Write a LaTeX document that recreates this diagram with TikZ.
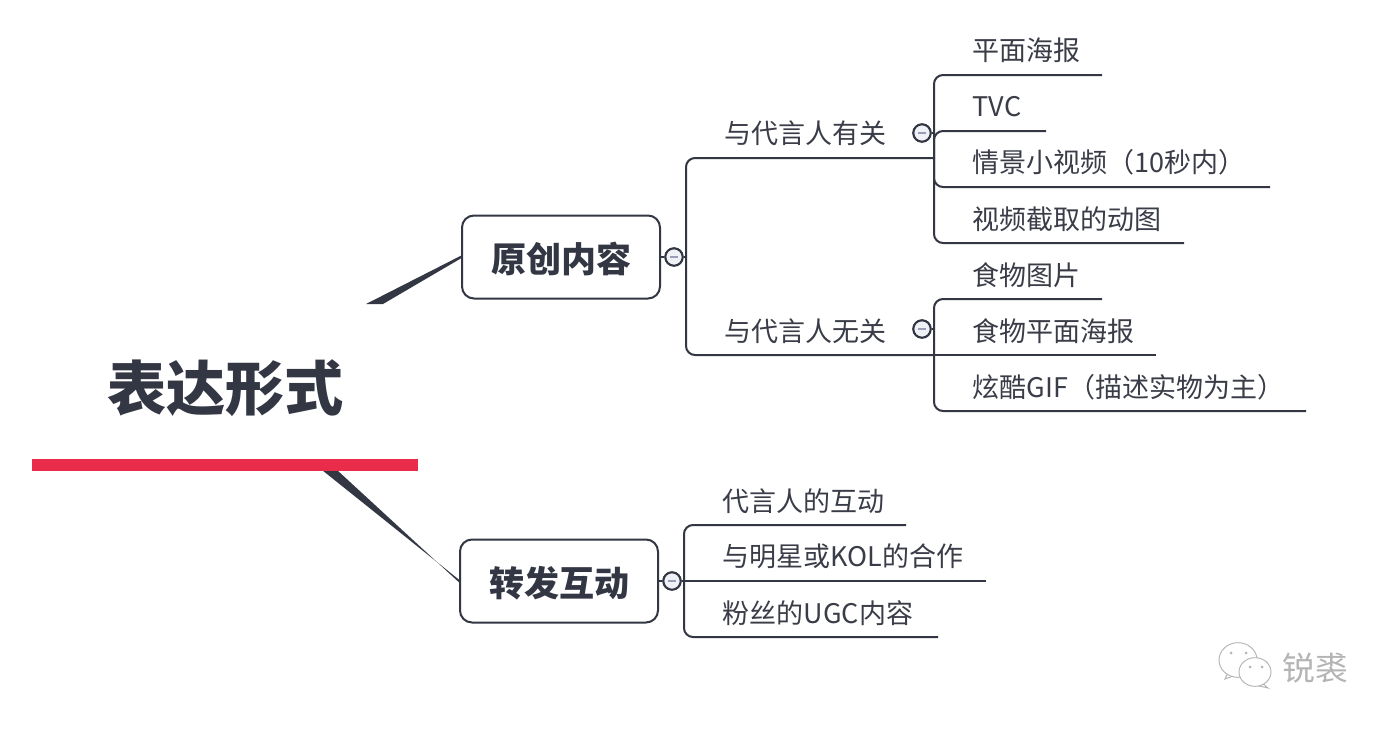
\documentclass[tikz,border=0pt]{standalone}
\usepackage{fontspec}
\setmainfont{Noto Sans CJK SC}
\usetikzlibrary{shapes.geometric}
\definecolor{ink}{HTML}{333744}
\definecolor{txt}{HTML}{3A3D48}
\definecolor{barred}{HTML}{E82C4A}
\definecolor{knob}{HTML}{F0F1F6}
\definecolor{dash}{HTML}{9A9CB8}
\definecolor{wm}{HTML}{B4B4B4}
\tikzset{
  x=0.75pt,y=-0.75pt,
  link/.style={draw=ink,line width=1.5pt,rounded corners=6.75pt},
  mainbox/.style={draw=ink,line width=1.5pt,rounded corners=9pt,minimum width=148.5pt,minimum height=62.25pt,inner sep=0pt,fill=white,text=ink,text height=27pt,text depth=4pt,font=\fontsize{26.25pt}{30pt}\selectfont\bfseries},
  leafbox/.style={anchor=south east,inner sep=0pt,minimum height=36pt,text width=#1*0.75pt,align=left,text=txt,font=\fontsize{20.25pt}{24pt}\selectfont},
  knobc/.style={circle,draw=ink,line width=1.5pt,fill=knob,minimum size=13pt,inner sep=0pt},
  knobdash/.style={draw=dash,line width=1pt},
  wedge/.style={fill=ink,draw=none},
  bubble/.style={draw=wm,line width=0.7pt,fill=white},
}
\begin{document}
\begin{tikzpicture}
\useasboundingbox (0,0) rectangle (1393,729);
\fill[white] (0,0) rectangle (1393,729);

% title and bar
\node[inner sep=0pt,text=ink,font=\fontsize{44.4pt}{50pt}\selectfont\bfseries] (title) at (225.5,388) {表达形式};

% main boxes
\node[mainbox] (orig) at (561,257) {原创内容};
\node[mainbox] (fwd) at (559,581) {转发互动};

% wedges
\coordinate (wa1) at (366,304);
\coordinate (wa2) at (383,304);
\coordinate (wb1) at (322,470);
\coordinate (wb2) at (337,470);
\fill[wedge] ([yshift=1pt]orig.west) -- (wa1) -- (wa2) -- ([yshift=-1pt]orig.west) -- cycle;
\fill[wedge] ([yshift=1pt]fwd.west) -- (wb1) -- (wb2) -- ([yshift=-1pt]fwd.west) -- cycle;
\node[rectangle,fill=barred,inner sep=0pt,minimum width=289.5pt,minimum height=9pt] (bar) at (225,465) {};

% second level
\node[leafbox=209] (m1) at (934,158) {与代言人有关};
\node[leafbox=209] (m2) at (934,355) {与代言人无关};
\node[knobc] (k1) at (674,257) {};
\node[knobc] (k2) at (922,133) {};
\node[knobc] (k3) at (922,329) {};
\node[knobc] (k4) at (672,581) {};
\coordinate (h1) at (686,257);
\coordinate (h4) at (684,581);

% leaves, group 1
\node[leafbox=129] (a1) at (1102,75) {平面海报};
\node[leafbox=73] (a2) at (1046,131) {TVC};
\node[leafbox=297] (a3) at (1270,187) {情景小视频（10秒内）};
\node[leafbox=211] (a4) at (1184,243) {视频截取的动图};
% leaves, group 2
\node[leafbox=129] (b1) at (1102,299) {食物图片};
\node[leafbox=183] (b2) at (1156,355) {食物平面海报};
\node[leafbox=333] (b3) at (1306,411) {炫酷GIF（描述实物为主）};
% leaves, group 3
\node[leafbox=183] (c1) at (906,525) {代言人的互动};
\node[leafbox=263] (c2) at (986,581) {与明星或KOL的合作};
\node[leafbox=215] (c3) at (938,637) {粉丝的UGC内容};

% connectors
\draw[link] (orig.east) -- (k1);
\draw[link] (fwd.east) -- (k4);
\draw[link] (k1.east) -- (h1);
\draw[link] (k4.east) -- (h4);
\draw[link] (h1) |- (m1.south east);
\draw[link] (h1) |- (m2.south east);
\draw[link] (k2.east) -- (k2.east -| m1.south east);
\draw[link] (k3.east) -- (k3.east -| m2.south east);
\foreach \n in {a1,a2,a3,a4} \draw[link] (m1.south east) |- (\n.south east);
\foreach \n in {b1,b3} \draw[link] (m2.south east) |- (\n.south east);
\draw[link] (m2.south east) -- (b2.south east);
\foreach \n in {c1,c3} \draw[link] (h4) |- (\n.south east);
\draw[link] (h4) -- (c2.south east);

% knobs on top
\foreach \k in {k1,k2,k3,k4} {
  \node[knobc] at (\k) {};
  \draw[knobdash] ([xshift=-3pt]\k.center) -- ([xshift=3pt]\k.center);
}

% watermark
\node[inner sep=0pt,text=wm,font=\fontsize{24.5pt}{28pt}\selectfont] (wmark) at (1315,668) {锐裘};
\draw[bubble] (1228,673) -- (1225,679) -- (1236,675);
\node[ellipse,bubble,minimum width=28.5pt,minimum height=26pt,inner sep=0pt] (bub1) at (1238,660) {};
\draw[bubble] (1262,683) -- (1268,688) -- (1255,685);
\node[ellipse,bubble,minimum width=24pt,minimum height=21.5pt,inner sep=0pt] (bub2) at (1255,672) {};
\fill[wm] (1231,653) circle (1.5) (1246,653) circle (1.5) (1250,667) circle (1.5) (1262,667) circle (1.5);
\end{tikzpicture}
\end{document}
